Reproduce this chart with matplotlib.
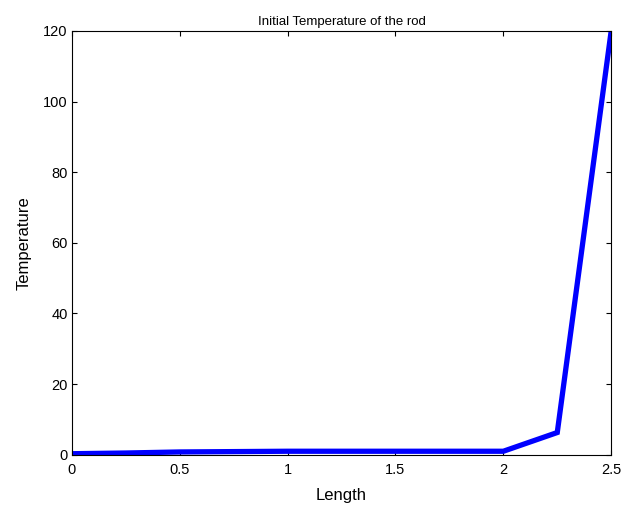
import matplotlib
matplotlib.use("Agg")
import matplotlib.pyplot as plt

# rod positions and initial temperature
length = [0, 0.25, 0.5, 0.75, 1.0, 1.25, 1.5, 1.75, 2.0, 2.25, 2.5]
temperature = [0.3, 0.5, 0.8, 0.9, 1.0, 1.0, 1.0, 1.0, 1.0, 6.3, 120]

xticks = [0, 0.5, 1, 1.5, 2, 2.5]
yticks = [0, 20, 40, 60, 80, 100, 120]

plt.rcParams['font.family'] = ['Liberation Sans', 'DejaVu Sans']

fig = plt.figure(figsize=(6.36, 5.07), dpi=100)
ax = fig.add_axes([0.113, 0.103, 0.848, 0.836])
ax.plot(length, temperature, color='#0000ff', linewidth=3.8, solid_joinstyle='miter')
ax.set_xlim(0, 2.5)
ax.set_ylim(0, 120)
ax.set_xticks(xticks)
ax.set_xticklabels(['0', '0.5', '1', '1.5', '2', '2.5'])
ax.set_yticks(yticks)
ax.tick_params(direction='in', top=True, right=True, labelsize=10.5, length=3.5)
ax.tick_params(axis='x', pad=6)
ax.tick_params(axis='y', pad=3)
for s in ax.spines.values():
    s.set_linewidth(0.8)
ax.set_title('Initial Temperature of the rod', fontsize=9.5, pad=4)
ax.set_xlabel('Length', fontsize=12, labelpad=8)
ax.set_ylabel('Temperature', fontsize=12, labelpad=8)

fig.savefig('out.png', dpi=100)
